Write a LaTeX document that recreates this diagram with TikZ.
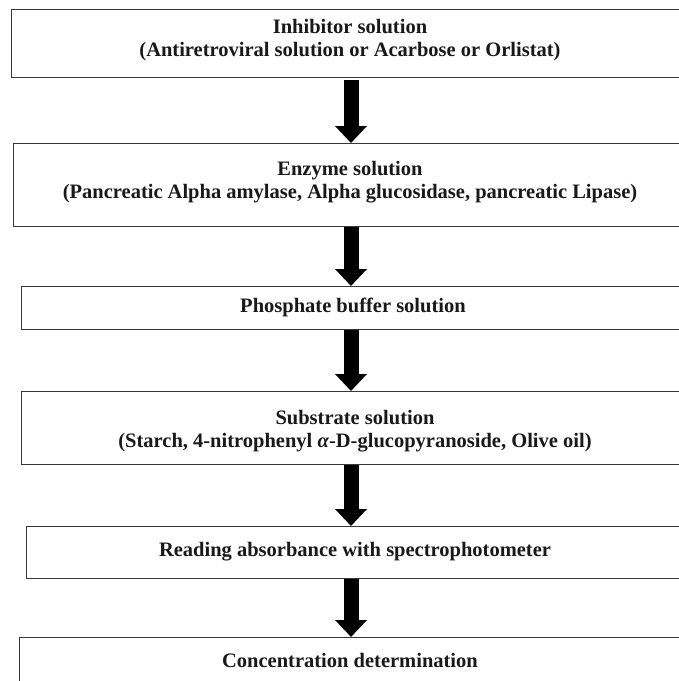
\documentclass[tikz,border=0pt]{standalone}
\usepackage{fontspec}
\setmainfont{Liberation Serif}
\usetikzlibrary{arrows.meta}
\tikzset{
  box/.style={draw=black!78, line width=1.3pt, fill=white, inner sep=0pt, anchor=north west},
  txt/.style={font=\bfseries\fontsize{20.5}{23.5}\selectfont, align=center, inner sep=0pt, text=black!90},
  bigarrow/.style={line width=15pt, -{Triangle[width=31pt,length=17pt]}, black}
}
\begin{document}
\begin{tikzpicture}[x={(1pt,0pt)}, y={(0pt,-1pt)}]
\useasboundingbox (0,0) rectangle (679,681);
\fill[white] (0,0) rectangle (679,681);
\clip (0,0) rectangle (679,681);
% boxes
\node[box, minimum width=690pt, minimum height=68pt] (b1) at (11,9) {};
\node[box, minimum width=690pt, minimum height=83pt] (b2) at (13,143) {};
\node[box, minimum width=690pt, minimum height=43pt] (b3) at (21,286) {};
\node[box, minimum width=690pt, minimum height=73pt] (b4) at (21,391) {};
\node[box, minimum width=690pt, minimum height=52pt] (b5) at (26,526) {};
\node[box, minimum width=690pt, minimum height=50pt] (b6) at (19,637) {};
% texts
\node[txt] (t1) at (350,40) {Inhibitor solution\\(Antiretroviral solution or Acarbose or Orlistat)};
\node[txt] (t2) at (350,182) {Enzyme solution\\(Pancreatic Alpha amylase, Alpha glucosidase, pancreatic Lipase)};
\node[txt] (t3) at (353,307.5) {Phosphate buffer solution};
\node[txt] (t4) at (355,431) {Substrate solution\\(Starch, 4-nitrophenyl \textit{α}-D-glucopyranoside, Olive oil)};
\node[txt] (t5) at (355,552) {Reading absorbance with spectrophotometer};
\node[txt] (t6) at (350,660) {Concentration determination};
% arrows
\coordinate (ax) at (351,0);
\draw[bigarrow] ([yshift=-2pt]b1.south -| ax) -- (b2.north -| ax);
\draw[bigarrow] (b2.south -| ax) -- (b3.north -| ax);
\draw[bigarrow] (b3.south -| ax) -- (b4.north -| ax);
\draw[bigarrow] (b4.south -| ax) -- (b5.north -| ax);
\draw[bigarrow] (b5.south -| ax) -- (b6.north -| ax);
\end{tikzpicture}
\end{document}
